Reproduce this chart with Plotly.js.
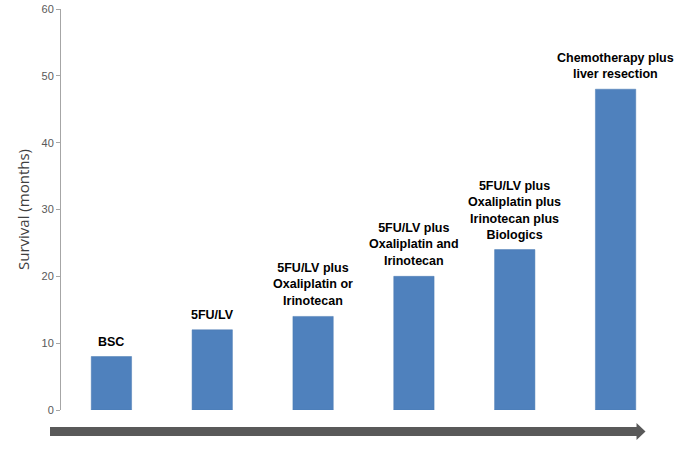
<!DOCTYPE html>
<html>
<head>
<meta charset="utf-8">
<script src="https://cdn.plot.ly/plotly-3.0.1.min.js"></script>
<style>html,body{margin:0;padding:0;background:#fff;}#chart{width:685px;height:456px;}</style>
</head>
<body>
<div id="chart"></div>
<script>
const categories = ["BSC", "5FU/LV", "5FU/LV plus Oxaliplatin or Irinotecan", "5FU/LV plus Oxaliplatin and Irinotecan", "5FU/LV plus Oxaliplatin plus Irinotecan plus Biologics", "Chemotherapy plus liver resection"];
const barLabels = ["BSC", "5FU/LV", "5FU/LV plus<br>Oxaliplatin or<br>Irinotecan", "5FU/LV plus<br>Oxaliplatin and<br>Irinotecan", "5FU/LV plus<br>Oxaliplatin plus<br>Irinotecan plus<br>Biologics", "Chemotherapy plus<br>liver resection"];
const survivalMonths = [8, 12, 14, 20, 24, 48];
const yTicks = [0, 10, 20, 30, 40, 50, 60];

const W = 685, H = 456;
const margin = {l: 61, r: 18.5, t: 9, b: 46};
const pw = W - margin.l - margin.r, ph = H - margin.t - margin.b;
const px = x => (x - margin.l) / pw;
const py = y => (H - margin.b - y) / ph;

// decorative arrow below the axis
const ax0 = 50, axBase = 637, axTip = 646, ayc = 431.5, half = 4.5, headHalf = 8.5;
const arrowPath = `M ${px(ax0)} ${py(ayc - half)} L ${px(axBase)} ${py(ayc - half)} L ${px(axBase)} ${py(ayc - headHalf)} L ${px(axTip)} ${py(ayc)} L ${px(axBase)} ${py(ayc + headHalf)} L ${px(axBase)} ${py(ayc + half)} L ${px(ax0)} ${py(ayc + half)} Z`;

const trace = {
  type: 'bar',
  x: categories,
  y: survivalMonths,
  width: 0.4,
  marker: {color: '#4f81bd', line: {color: '#4a7ab3', width: 0.5}},
  hoverinfo: 'x+y'
};

const annotations = categories.map((c, i) => ({
  x: c, y: survivalMonths[i], xref: 'x', yref: 'y',
  text: '<b>' + barLabels[i] + '</b>', showarrow: false,
  yanchor: 'bottom', yshift: 6,
  font: {family: 'Liberation Sans, Arial, sans-serif', size: 12.5, color: '#000'}
}));

const layout = {
  width: W, height: H,
  margin: margin,
  paper_bgcolor: '#fff', plot_bgcolor: '#fff',
  showlegend: false,
  bargap: 0.6,
  xaxis: {showticklabels: false, showline: false, showgrid: false, zeroline: false, ticks: '', range: [-0.5, 5.5], fixedrange: true},
  yaxis: {
    range: [0, 60], tickvals: yTicks, ticktext: yTicks.map(String),
    showgrid: false, zeroline: false, showline: true, linecolor: '#a6a6a6', linewidth: 1,
    ticks: 'outside', ticklen: 4, tickcolor: '#a6a6a6',
    tickfont: {family: 'Liberation Sans, Arial, sans-serif', size: 11, color: '#595959'},
    title: {text: 'Survival (months)', standoff: 8, font: {family: 'Open Sans, sans-serif', size: 15, color: '#404040'}}
  },
  annotations: annotations,
  shapes: [{type: 'path', xref: 'paper', yref: 'paper', path: arrowPath, fillcolor: '#595959', line: {width: 0}}]
};

Plotly.newPlot('chart', [trace], layout, {displayModeBar: false, staticPlot: true});
</script>
</body>
</html>
